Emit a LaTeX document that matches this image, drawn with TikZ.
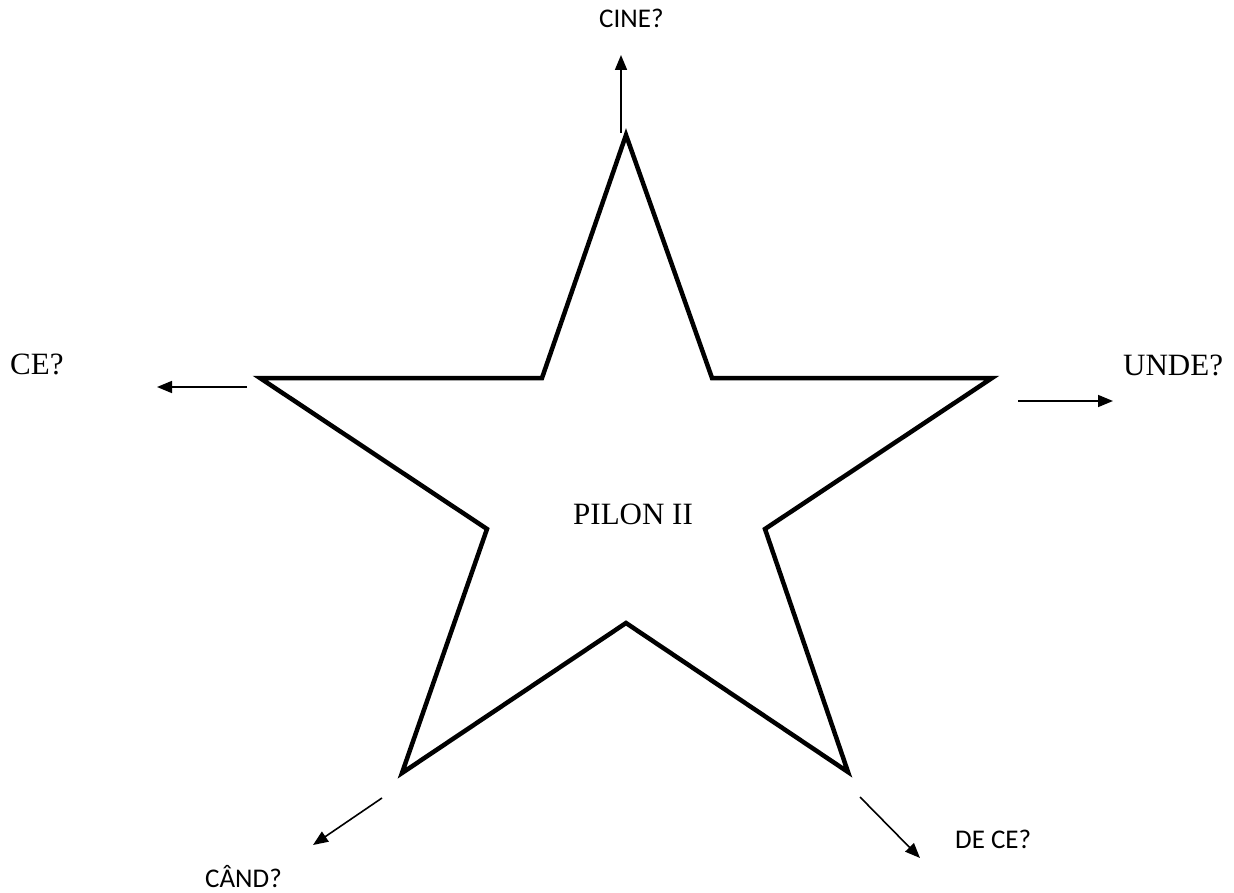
\documentclass[tikz,border=0pt]{standalone}
\usepackage{fontspec}
\setmainfont{Liberation Serif}
\newfontfamily\labelsans{Carlito}
\usetikzlibrary{arrows.meta}
\tikzset{
  serlabel/.style={inner sep=0pt, anchor=base west, font=\fontsize{31}{31}\selectfont},
  sanslabel/.style={inner sep=0pt, anchor=base west, font=\labelsans\fontsize{27}{27}\selectfont},
  startline/.style={line width=4.5pt, line join=miter, miter limit=20},
  pointer/.style={line width=1.6pt, -{Triangle[length=15pt,width=12pt]}}
}
\begin{document}
\begin{tikzpicture}[x=1pt,y=-1pt]
\useasboundingbox (0,0) rectangle (1234,893);
% star vertices
\coordinate (t) at (626,135);
\coordinate (iul) at (542,378);
\coordinate (ol) at (260,378);
\coordinate (ill) at (487,529);
\coordinate (obl) at (402,773);
\coordinate (ib) at (626,623);
\coordinate (obr) at (848,772);
\coordinate (ilr) at (765,529);
\coordinate (or) at (992,378);
\coordinate (iur) at (712,378);
\draw[startline] (t) -- (iul) -- (ol) -- (ill) -- (obl) -- (ib) -- (obr) -- (ilr) -- (or) -- (iur) -- cycle;
% labels
\node[serlabel] (pilon) at (573,524) {PILON II};
\node[sanslabel] (cine) at (599,28) {CINE?};
\node[serlabel] (ce) at (10,374) {CE?};
\node[serlabel] (unde) at (1123,375) {UNDE?};
\node[sanslabel] (cand) at (205,887) {CÂND?};
\node[sanslabel] (dece) at (955,848) {DE CE?};
% arrow ends
\coordinate (a1s) at (621,133);
\coordinate (a1e) at (621,55);
\coordinate (a2s) at (247,387);
\coordinate (a2e) at (157,387);
\coordinate (a3s) at (1018,401);
\coordinate (a3e) at (1113,401);
\coordinate (a4s) at (382,798);
\coordinate (a4e) at (313,845);
\coordinate (a5s) at (860,797);
\coordinate (a5e) at (920,858);
\draw[pointer] (a1s) -- (a1e);
\draw[pointer] (a2s) -- (a2e);
\draw[pointer] (a3s) -- (a3e);
\draw[pointer] (a4s) -- (a4e);
\draw[pointer] (a5s) -- (a5e);
\end{tikzpicture}
\end{document}
